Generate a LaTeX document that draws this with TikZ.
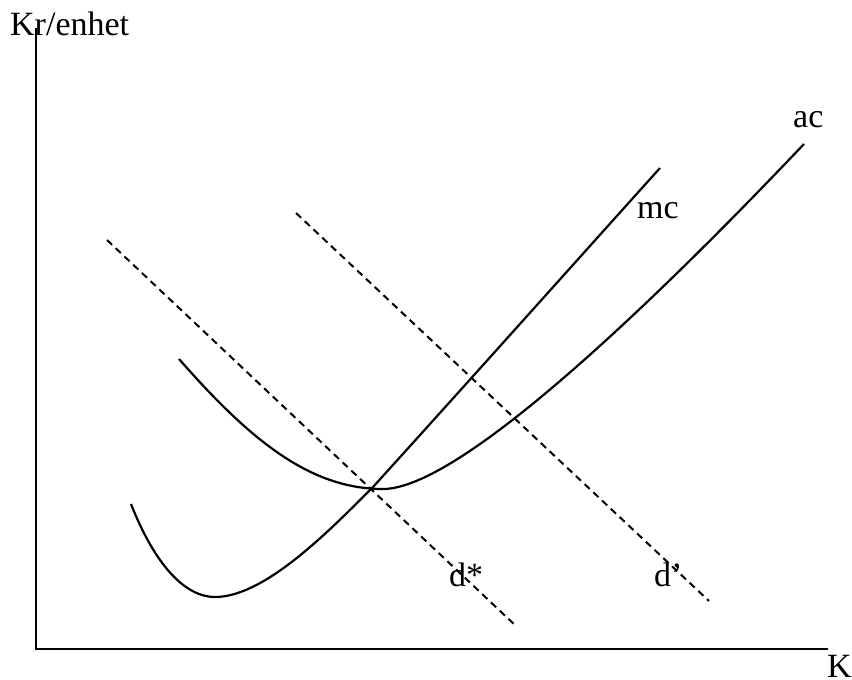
\documentclass[tikz,border=0pt]{standalone}
\usepackage{fontspec}
\setmainfont{Liberation Serif}
\begin{document}
\begin{tikzpicture}[x=1pt,y=-1pt,
  curve/.style={line width=2.2pt},
  axis/.style={line width=2.2pt},
  demand/.style={line width=2pt,dash pattern=on 7pt off 5pt},
  lbl/.style={anchor=base west,inner sep=0pt,font=\fontsize{34}{40}\selectfont}]
\useasboundingbox (0,0) rectangle (852,680);
% axes
\coordinate (top) at (36,28);
\coordinate (origin) at (36,649);
\coordinate (right) at (828,649);
\draw[axis] (top) -- (origin) -- (right);
\node[lbl] (ylab) at (10,35) {Kr/enhet};
\node[lbl] (xlab) at (827,677) {K};
% demand lines
\coordinate (ds1) at (107,240);
\coordinate (ds2) at (516,626);
\coordinate (dp1) at (296,213);
\coordinate (dp2) at (709,601);
\draw[demand] (ds1) -- (ds2);
\draw[demand] (dp1) -- (dp2);
% mc curve
\coordinate (mc0) at (131,504);
\coordinate (mcmin) at (215,597);
\coordinate (eq) at (373,487);
\coordinate (mc1) at (660,168);
\draw[curve] (mc0) .. controls (155,565) and (185,597) .. (mcmin)
  .. controls (265,597) and (330,530) .. (eq)
  .. controls (470,380) and (570,268) .. (mc1);
% ac curve
\coordinate (ac0) at (179,359);
\coordinate (acmin) at (383,489);
\coordinate (ac1) at (804,144);
\draw[curve] (ac0) .. controls (250,440) and (310,489) .. (acmin)
  .. controls (460,489) and (654,302) .. (ac1);
% labels
\node[lbl] (mclab) at (637,218) {mc};
\node[lbl] (aclab) at (793,127) {ac};
\node[lbl] (dslab) at (449,586) {d*};
\node[lbl] (dplab) at (654,586) {d’};
\end{tikzpicture}
\end{document}
